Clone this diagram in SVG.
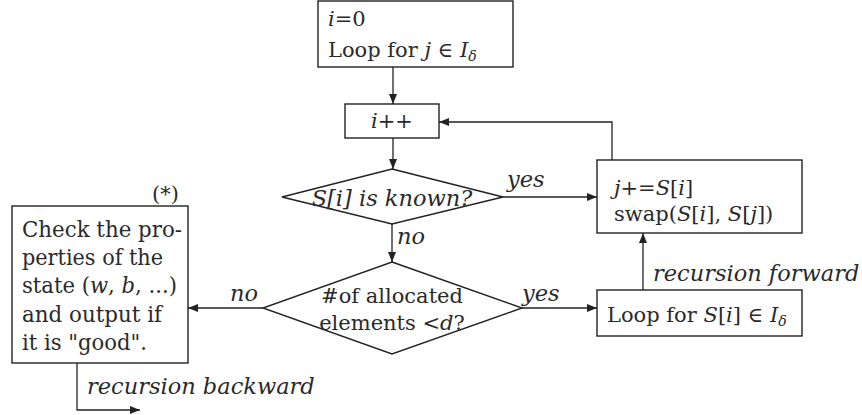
<svg xmlns="http://www.w3.org/2000/svg" width="862" height="415" viewBox="0 0 862 415">
  <style>
    .box { fill: #fff; stroke: #222; stroke-width: 1.4; }
    .line { fill: none; stroke: #222; stroke-width: 1.3; }
    text { font-family: "DejaVu Serif", "Liberation Serif", serif; font-size: 21px; fill: #2a2a2a; }
    .it { font-style: italic; }
    .lbl { font-style: italic; font-size: 22.5px; }
    .body { font-size: 21.5px; }
    .sub { font-size: 14px; font-style: italic; }
  </style>
  <defs>
    <marker id="arrow" viewBox="0 0 10 8" refX="10" refY="4" markerWidth="10" markerHeight="8" markerUnits="userSpaceOnUse" orient="auto">
      <path d="M0,0 L10,4 L0,8 z" fill="#222"/>
    </marker>
  </defs>

  <!-- connectors and their labels -->
  <g id="connectors">
    <path class="line" d="M393,67 V104" marker-end="url(#arrow)"/>
    <path class="line" d="M393,138 V169" marker-end="url(#arrow)"/>
    <path class="line" d="M612,160 V122 H439" marker-end="url(#arrow)"/>
    <path class="line" d="M503,197 H597" marker-end="url(#arrow)"/>
    <path class="line" d="M392,224 V262" marker-end="url(#arrow)"/>
    <path class="line" d="M522,308 H597" marker-end="url(#arrow)"/>
    <path class="line" d="M263,308 H188" marker-end="url(#arrow)"/>
    <path class="line" d="M643,290 V233" marker-end="url(#arrow)"/>
    <path class="line" d="M77,363 V410 H140" marker-end="url(#arrow)"/>
    <text class="lbl" x="507" y="187">yes</text>
    <text class="lbl" x="397" y="244">no</text>
    <text class="lbl" x="522" y="301">yes</text>
    <text class="lbl" x="230" y="301">no</text>
    <text class="lbl" x="653" y="281">recursion forward</text>
    <text class="lbl" x="87" y="394">recursion backward</text>
  </g>

  <g id="start">
    <rect class="box" x="318" y="1" width="195" height="66"/>
    <text x="328" y="26"><tspan class="it">i</tspan>=0</text>
    <text x="328" y="57">Loop for <tspan class="it">j</tspan> ∈ <tspan class="it">I</tspan><tspan class="sub" dy="4">δ</tspan></text>
  </g>

  <g id="increment">
    <rect class="box" x="345" y="104" width="94" height="34"/>
    <text x="392" y="128" text-anchor="middle"><tspan class="it">i</tspan>++</text>
  </g>

  <g id="known">
    <polygon class="box" points="392,169 503,197 392,224 282,197"/>
    <text class="lbl" x="392" y="206" text-anchor="middle">S[i] is known?</text>
  </g>

  <g id="swap">
    <rect class="box" x="597" y="160" width="205" height="73"/>
    <text x="614" y="195"><tspan class="it">j</tspan>+=<tspan class="it">S</tspan>[<tspan class="it">i</tspan>]</text>
    <text x="614" y="221">swap(<tspan class="it">S</tspan>[<tspan class="it">i</tspan>], <tspan class="it">S</tspan>[<tspan class="it">j</tspan>])</text>
  </g>

  <g id="allocated">
    <polygon class="box" points="392,262 522,308 392,354 263,308"/>
    <text x="392" y="303" text-anchor="middle">#of allocated</text>
    <text x="392" y="330" text-anchor="middle">elements &lt;<tspan class="it">d</tspan>?</text>
  </g>

  <g id="loop">
    <rect class="box" x="597" y="290" width="205" height="46"/>
    <text x="607" y="322">Loop for <tspan class="it">S</tspan>[<tspan class="it">i</tspan>] ∈ <tspan class="it">I</tspan><tspan class="sub" dy="4">δ</tspan></text>
  </g>

  <g id="check">
    <rect class="box" x="12" y="206" width="176" height="157"/>
    <text x="152" y="201">(*)</text>
    <text class="body" x="22" y="237" textLength="160" lengthAdjust="spacingAndGlyphs">Check the pro-</text>
    <text class="body" x="22" y="265" textLength="141" lengthAdjust="spacingAndGlyphs">perties of the</text>
    <text class="body" x="22" y="293" textLength="155" lengthAdjust="spacingAndGlyphs">state (<tspan class="it">w</tspan>, <tspan class="it">b</tspan>, ...)</text>
    <text class="body" x="22" y="322" textLength="140" lengthAdjust="spacingAndGlyphs">and output if</text>
    <text class="body" x="22" y="350" textLength="125" lengthAdjust="spacingAndGlyphs">it is "good".</text>
  </g>
</svg>
